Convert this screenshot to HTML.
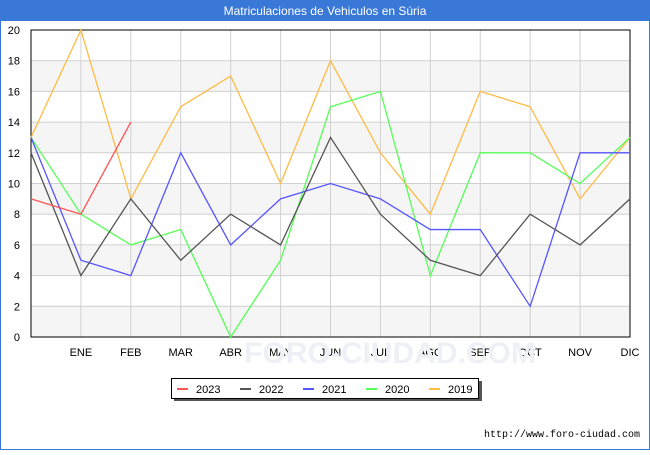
<!DOCTYPE html>
<html><head><meta charset="utf-8"><style>
body{margin:0;width:650px;height:450px;overflow:hidden;background:#fff;font-family:"Liberation Sans","DejaVu Sans",sans-serif}
</style></head><body>
<svg width="650" height="450" xmlns="http://www.w3.org/2000/svg">
<rect x="0.5" y="0.5" width="649" height="449" fill="#fff" stroke="#3a78d8"/>
<rect x="0" y="0" width="650" height="21" fill="#3a78d8"/>
<text x="325" y="15" text-anchor="middle" fill="#fff" font-size="12">Matriculaciones de Vehiculos en Súria</text>
<g id="plot"></g>
<text x="390" y="363" text-anchor="middle" fill="#eef0f6" font-size="30" font-weight="bold">FORO-CIUDAD.COM</text>
<text x="640" y="437" text-anchor="end" font-size="10" fill="#000" font-family="Liberation Mono,monospace">http://www.foro-ciudad.com</text>
<g id="legend"></g>
</svg>
<script>
const months=["","ENE","FEB","MAR","ABR","MAY","JUN","JUL","AGO","SEP","OCT","NOV","DIC"];
const yTicks=[0,2,4,6,8,10,12,14,16,18,20];
const seriesNames=["2023","2022","2021","2020","2019"];
const seriesColors=["#ff5555","#555555","#5555ff","#55ff55","#ffbb44"];
const s2023=[9,8,14];
const s2022=[12,4,9,5,8,6,13,8,5,4,8,6,9];
const s2021=[13,5,4,12,6,9,10,9,7,7,2,12,12];
const s2020=[13,8,6,7,0,5,15,16,4,12,12,10,13];
const s2019=[13,20,9,15,17,10,18,12,8,16,15,9,13];
const allSeries=[s2023,s2022,s2021,s2020,s2019];
const NS="http://www.w3.org/2000/svg";
const X0=31,X1=630,Y0=337,Y1=30;
const xs=i=>X0+(X1-X0)*i/12;
const ys=v=>Y0-(Y0-Y1)*v/20;
const plot=document.getElementById('plot');
function mk(t,a,p){const e=document.createElementNS(NS,t);for(const k in a)e.setAttribute(k,a[k]);(p||plot).appendChild(e);return e;}
for(let i=0;i<yTicks.length-1;i+=2){
 const r=mk('rect',{x:X0,y:ys(yTicks[i+1]),width:X1-X0,height:ys(yTicks[i])-ys(yTicks[i+1]),fill:'#f5f5f5'});
 
 
}
yTicks.forEach(v=>{
 const l=mk('line',{x1:X0,x2:X1,y1:ys(v),y2:ys(v),stroke:'#d0d0d0'});
 
 
 const t=mk('text',{x:X0-11,y:ys(v)+4,'text-anchor':'end','font-size':11,fill:'#000'});
 t.textContent=v;
 
 
});
months.forEach((m,i)=>{
 if(i>0){const l=mk('line',{x1:xs(i),x2:xs(i),y1:Y1,y2:Y0,stroke:'#d0d0d0'});
 
 }
 if(m){const t=mk('text',{x:xs(i),y:356,'text-anchor':'middle','font-size':11,fill:'#000'});
 t.textContent=m;
 
 }
});
const fr=mk('rect',{x:X0,y:Y1,width:X1-X0,height:Y0-Y1,fill:'none',stroke:'#000'});


for(let s=allSeries.length-1;s>=0;s--){
 const pts=allSeries[s].map((v,i)=>xs(i)+','+ys(v)).join(' ');
 const p=mk('polyline',{points:pts,fill:'none',stroke:seriesColors[s],'stroke-width':1.3});
 
 
}
const lg=document.getElementById('legend');
const sh=mk('rect',{x:174,y:381,width:308,height:20,fill:'#555'},lg);


const bx=mk('rect',{x:171.5,y:378.5,width:307,height:20,fill:'#fff',stroke:'#000'},lg);


seriesNames.forEach((n,i)=>{
 const x=177+i*63;
 const l=mk('line',{x1:x,x2:x+11,y1:389,y2:389,stroke:seriesColors[i],'stroke-width':2},lg);
 
 
 const t=mk('text',{x:x+19,y:393,'font-size':11,fill:'#000'},lg);
 t.textContent=n;
 
 
});
</script>
</body></html>
